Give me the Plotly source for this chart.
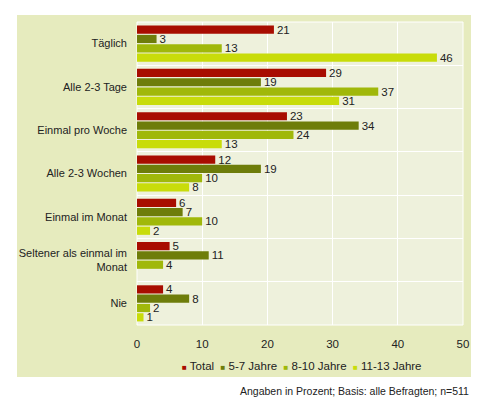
import plotly.graph_objects as go

categories = ["Täglich", "Alle 2-3 Tage", "Einmal pro Woche", "Alle 2-3 Wochen",
              "Einmal im Monat", "Seltener als einmal im<br>Monat", "Nie"]
series_names = ["Total", "5-7 Jahre", "8-10 Jahre", "11-13 Jahre"]
total = [21, 29, 23, 12, 6, 5, 4]
age_5_7 = [3, 19, 34, 19, 7, 11, 8]
age_8_10 = [13, 37, 24, 10, 10, 4, 2]
age_11_13 = [46, 31, 13, 8, 2, None, 1]
x_ticks = [0, 10, 20, 30, 40, 50]
footnote = "Angaben in Prozent; Basis: alle Befragten; n=511"

colors = ["#A80D00", "#6E7D0A", "#A0B80A", "#C8DC0A"]
series_values = [total, age_5_7, age_8_10, age_11_13]
FONT = "Liberation Sans, Arial, sans-serif"

fig = go.Figure()
for name, vals, col in zip(series_names, series_values, colors):
    fig.add_trace(go.Bar(
        y=categories, x=vals, name=name, orientation="h",
        marker=dict(color=col, line=dict(width=0)),
        text=[("" if v is None else str(v)) for v in vals],
        textposition="outside", cliponaxis=False, constraintext="none",
        textfont=dict(family=FONT, size=11.5, color="#222222"),
        showlegend=False,
    ))

# plot geometry (pixels)
L, R, T, B = 137, 26, 22, 75
W, H = 489, 400
pw, ph = W - L - R, H - T - B

def px_x(p):
    return (p - L) / pw

def px_y(p):
    return (H - B - p) / ph

legend_text = "  ".join(
    f"<span style='color:{c};font-size:8px'>■</span> {n}" for n, c in zip(series_names, colors)
)

fig.update_layout(
    width=W, height=H,
    margin=dict(l=L, r=R, t=T, b=B, pad=0),
    paper_bgcolor="white",
    plot_bgcolor="rgba(0,0,0,0)",
    barmode="group",
    bargap=0.14,
    bargroupgap=0.12,
    font=dict(family=FONT, size=11, color="#222222"),
    shapes=[
        dict(type="rect", xref="paper", yref="paper", layer="below",
             x0=px_x(17), x1=px_x(471), y0=px_y(377), y1=px_y(15),
             fillcolor="#E6EBBE", line=dict(width=0)),
        dict(type="rect", xref="paper", yref="paper", layer="below",
             x0=0, x1=1, y0=0, y1=1,
             fillcolor="#EEF1DC", line=dict(color="white", width=1)),
    ],
    annotations=[
        dict(text=legend_text, xref="paper", yref="paper",
             x=px_x(302), y=px_y(366), xanchor="center", yanchor="middle",
             showarrow=False, font=dict(family=FONT, size=11.5, color="#222222")),
        dict(text=footnote, xref="paper", yref="paper",
             x=px_x(471), y=px_y(391), xanchor="right", yanchor="middle",
             showarrow=False, font=dict(family=FONT, size=10.5, color="#222222")),
    ],
)
fig.update_xaxes(
    range=[0, 50], tickvals=x_ticks, showgrid=True, gridcolor="white", gridwidth=1,
    zeroline=False, showline=False, ticks="", ticklabelstandoff=10,
    tickfont=dict(family=FONT, size=11.5, color="#222222"),
    fixedrange=True,
)
fig.update_yaxes(
    autorange="reversed", tickson="boundaries", showgrid=True, gridcolor="white",
    gridwidth=1, ticks="", ticklabelstandoff=9,
    showline=False, zeroline=False,
    tickfont=dict(family=FONT, size=11, color="#222222"),
    fixedrange=True,
)

fig.write_html("out.html", config={"displayModeBar": False},
               post_script="document.body.style.margin='0';")
